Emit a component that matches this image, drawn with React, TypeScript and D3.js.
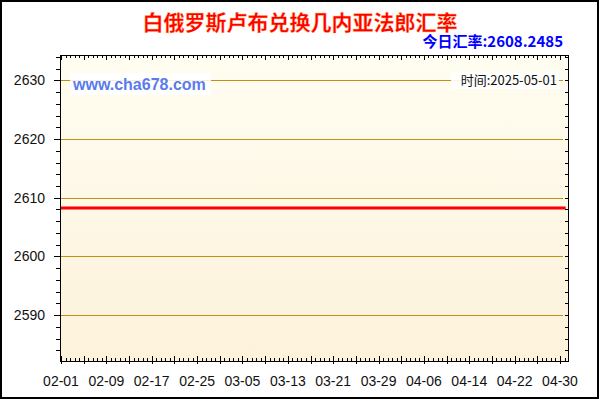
import { line, range, scaleLinear, scaleTime, timeFormat } from 'd3';

const width = 600;
const height = 400;
const frame = { left: 60, right: 568, top: 55, bottom: 361 };

const title = '白俄罗斯卢布兑换几内亚法郎汇率';
const todayLabel = '今日汇率:2608.2485';
const timeLabel = '时间:2025-05-01';
const siteLabel = 'www.cha678.com';

// flat rate over the whole period
const dates = ['2025-02-01', '2025-02-09', '2025-02-17', '2025-02-25', '2025-03-05', '2025-03-13', '2025-03-21', '2025-03-29', '2025-04-06', '2025-04-14', '2025-04-22', '2025-04-30', '2025-05-01'];
const rates = [2608.2485, 2608.2485, 2608.2485, 2608.2485, 2608.2485, 2608.2485, 2608.2485, 2608.2485, 2608.2485, 2608.2485, 2608.2485, 2608.2485, 2608.2485];
const xTickDates = ['2025-02-01', '2025-02-09', '2025-02-17', '2025-02-25', '2025-03-05', '2025-03-13', '2025-03-21', '2025-03-29', '2025-04-06', '2025-04-14', '2025-04-22', '2025-04-30'];
const yTicks = [2590, 2600, 2610, 2620, 2630];

const parse = (s: string) => new Date(s + 'T00:00:00');
const fmt = timeFormat('%m-%d');

export default function App() {
  const xScale = scaleTime()
    .domain([parse('2025-02-01'), parse('2025-04-30')])
    .range([61, 560]);

  const yScale = scaleLinear()
    .domain([2582.17, 2634.33])
    .range([frame.bottom, frame.top]);

  const points = dates.map((d, i) => ({ date: parse(d), rate: rates[i] }));
  const rateLine = line<{ date: Date; rate: number }>()
    .x(p => xScale(p.date))
    .y(p => yScale(p.rate))(points);

  // minor x ticks every 0.8 day, major every 4 days
  const start = parse('2025-02-01').getTime();
  const dayMs = 86400000;
  const xMinor = range(0, 112).map(i => start + i * 0.8 * dayMs)
    .map(t => ({ x: xScale(new Date(t)), major: Math.round((t - start) / dayMs * 10) % 40 === 0 }))
    .filter(t => t.x >= frame.left && t.x <= frame.right);

  const yMinor = range(2584, 2635, 2).map(v => ({ y: yScale(v), major: v % 10 === 0 }));

  const font = '"Liberation Sans", Arial, sans-serif';
  const cjk = '"Noto Sans CJK SC", "Liberation Sans", sans-serif';

  return (
    <svg width={width} height={height} style={{ position: 'fixed', left: 0, top: 0, background: '#ffffff' }}>
      <defs>
        <linearGradient id="plot-bg" x1="0" x2="0" y1="0" y2="1">
          <stop offset="0%" stopColor="#fffdf1" />
          <stop offset="100%" stopColor="#fdf2db" />
        </linearGradient>
      </defs>
      <rect x={1} y={1} width={597} height={397} fill="#ffffff" stroke="#000000" strokeWidth={2} />

      <rect x={frame.left} y={frame.top} width={frame.right - frame.left} height={frame.bottom - frame.top} fill="url(#plot-bg)" />

      {yTicks.map(v => (
        <g key={v}>
          <line x1={frame.left} x2={563} y1={Math.round(yScale(v)) + 0.5} y2={Math.round(yScale(v)) + 0.5} stroke="#c18f12" strokeWidth={1} />
          <text x={45} y={yScale(v)} dy="0.35em" textAnchor="end" fontFamily={font} fontSize={14} fill="#111111">{v}</text>
        </g>
      ))}

      <rect x={70} y={73} width={141} height={22} fill="#ffffff" fillOpacity={0.85} />
      <text x={73} y={84} dy="0.36em" fontFamily={font} fontSize={16} fontWeight="bold" fill="#5a7bef">{siteLabel}</text>
      <rect x={451} y={72} width={108} height={17} fill="#ffffff" fillOpacity={0.9} />
      <text x={557} y={80.5} dy="0.36em" textAnchor="end" fontFamily={cjk} fontSize={13} fill="#111111">{timeLabel}</text>

      {rateLine && <path d={rateLine} fill="none" stroke="#ff0000" strokeWidth={3} />}

      <rect x={frame.left + 0.5} y={frame.top + 0.5} width={frame.right - frame.left} height={frame.bottom - frame.top} fill="none" stroke="#000000" strokeWidth={1} />

      {yMinor.map(t => (
        <g key={t.y}>
          <line x1={frame.left - (t.major ? 6 : 4)} x2={frame.left} y1={Math.round(t.y) + 0.5} y2={Math.round(t.y) + 0.5} stroke="#000000" />
          <line x1={frame.right - 3} x2={frame.right} y1={Math.round(t.y) + 0.5} y2={Math.round(t.y) + 0.5} stroke="#000000" />
        </g>
      ))}

      {xMinor.map(t => (
        <g key={t.x}>
          <line x1={Math.round(t.x) + 0.5} x2={Math.round(t.x) + 0.5} y1={frame.bottom - (t.major ? 5 : 3)} y2={frame.bottom + (t.major ? 3 : 0)} stroke="#000000" />
          <line x1={Math.round(t.x) + 0.5} x2={Math.round(t.x) + 0.5} y1={frame.top} y2={frame.top + (t.major ? 5 : 3)} stroke="#000000" />
        </g>
      ))}

      {xTickDates.map(d => (
        <text key={d} x={xScale(parse(d))} y={381} dy="0.35em" textAnchor="middle" fontFamily={font} fontSize={14} fill="#111111">{fmt(parse(d))}</text>
      ))}

      <text x={300} y={22} dy="0.36em" textAnchor="middle" fontFamily={cjk} fontSize={21} fontWeight="bold" fill="#ff0000" stroke="#ffd27a" strokeWidth={0.3}>{title}</text>
      <text x={563} y={42} dy="0.36em" textAnchor="end" fontFamily={cjk} fontSize={15} fontWeight="bold" fill="#0000ff">{todayLabel}</text>
    </svg>
  );
}
